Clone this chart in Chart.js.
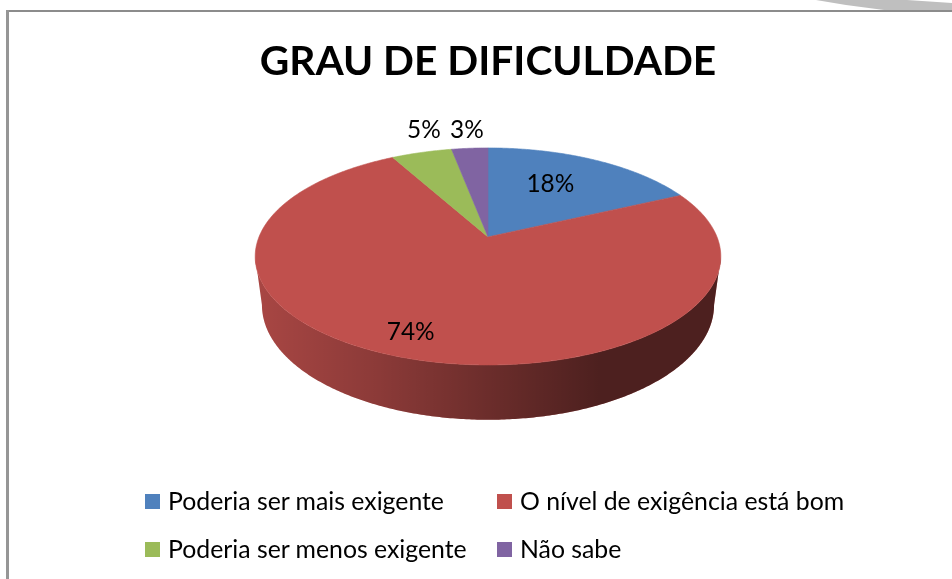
<!DOCTYPE html>
<html lang="pt">
<head>
<meta charset="utf-8">
<title>Grau de dificuldade</title>
<script src="https://cdn.jsdelivr.net/npm/chart.js@4"></script>
<style>
  html, body { margin: 0; background: #fff; }
  #page { position: relative; width: 952px; height: 579px; overflow: hidden; font-family: Lato, sans-serif; color: #000; }
  #swoosh { position: absolute; left: 816px; top: 0; width: 136px; height: 10px; background: #bfbfbf;
            clip-path: polygon(0 0, 91px 0, 136px 3px, 136px 10px, 68px 10px, 30px 5px); }
  #topline { position: absolute; left: 6px; top: 10px; width: 946px; height: 2px; background: #8c8c8c; }
  #leftline { position: absolute; left: 6px; top: 10px; width: 3px; height: 569px; background: #969696; }
  canvas { position: absolute; left: 0; top: 0; }
  .key { position: absolute; font-size: 24.8px; line-height: 30px; white-space: nowrap; }
  .key i { position: absolute; left: -23px; top: 8px; width: 15px; height: 15px; }
</style>
</head>
<body>
<div id="page">
  <div id="swoosh"></div>
  <div id="topline"></div>
  <div id="leftline"></div>
  <canvas id="grauChart" width="952" height="579"></canvas>
</div>
<script>
const categories = ['Poderia ser mais exigente', 'O nível de exigência está bom', 'Poderia ser menos exigente', 'Não sabe'];
const percentages = [18, 74, 5, 3];
const sliceColors = ['#4f81bd', '#c0504d', '#9bbb59', '#8064a2'];
const chartTitle = 'GRAU DE DIFICULDADE';

// perspectiva da tampa e da base do disco (fatores do raio do Chart.js)
const TOP_FACE = { rx: 1, ry: 0.4585, k: 0.18, drop: 0 };
const BASE_FACE = { rx: 0.971, ry: 0.485, k: 0.18, drop: 47.4 };
// escurecimento da lateral, da esquerda para a direita
const SIDE_SHADE = [[0, 0.12], [0.27, 0.28], [0.5, 0.44], [0.74, 0.6], [1, 0.6]];
// onde cada rótulo fica em relação ao meio da fatia
const LABEL_SPOTS = [
    { r: 0.658, dx: -11 },
    { r: 0.818, dx: -10 },
    { r: 1.328, dx: 20 },
    { r: 1.254, dx: 1 }
];
const LEGEND_SPOTS = [[168, 487], [520, 487], [168, 535], [520, 535]];

const project = (arc, face, angle, r = 1) => {
    const u = Math.cos(angle) * r;
    const v = Math.sin(angle) * r;
    const w = 1 - face.k * v;
    return {
        x: arc.x + arc.outerRadius * face.rx * u / w,
        y: arc.y + face.drop + arc.outerRadius * face.ry * v / w
    };
};

const traceRim = (ctx, arc, face, from, to) => {
    const steps = Math.max(2, Math.ceil(Math.abs(to - from) / 0.01));
    for (let i = 0; i <= steps; i++) {
        const p = project(arc, face, from + (to - from) * i / steps);
        ctx.lineTo(p.x, p.y);
    }
};

const drawSide = (ctx, arc, color) => {
    const edge = Math.asin(TOP_FACE.k);
    const from = Math.max(arc.startAngle, edge);
    const to = Math.min(arc.endAngle, Math.PI - edge);
    if (from >= to) return;

    const left = arc.x - arc.outerRadius * 1.017;
    const right = arc.x + arc.outerRadius * 1.017;
    const shade = ctx.createLinearGradient(left, 0, right, 0);
    SIDE_SHADE.forEach(([stop, alpha]) => shade.addColorStop(stop, `rgba(0,0,0,${alpha})`));

    [color, shade].forEach(fill => {
        ctx.beginPath();
        traceRim(ctx, arc, TOP_FACE, from, to);
        traceRim(ctx, arc, BASE_FACE, to, from);
        ctx.closePath();
        ctx.fillStyle = fill;
        ctx.fill();
    });
};

const drawTop = (ctx, arc, color) => {
    ctx.beginPath();
    ctx.moveTo(arc.x, arc.y);
    traceRim(ctx, arc, TOP_FACE, arc.startAngle, arc.endAngle);
    ctx.closePath();
    ctx.fillStyle = color;
    ctx.strokeStyle = color;
    ctx.lineWidth = 0.6;
    ctx.fill();
    ctx.stroke();
};

// desenha a pizza em perspectiva a partir dos arcos calculados pelo Chart.js
const tiltedPie = {
    id: 'tiltedPie',
    beforeDatasetsDraw(chart) {
        const ctx = chart.ctx;
        const arcs = chart.getDatasetMeta(0).data;
        ctx.save();
        arcs.forEach((arc, i) => drawSide(ctx, arc, sliceColors[i]));
        arcs.forEach((arc, i) => drawTop(ctx, arc, sliceColors[i]));

        ctx.fillStyle = '#000';
        ctx.font = '24.4px Lato, sans-serif';
        ctx.textAlign = 'center';
        ctx.textBaseline = 'middle';
        arcs.forEach((arc, i) => {
            const mid = (arc.startAngle + arc.endAngle) / 2;
            const p = project(arc, TOP_FACE, mid, LABEL_SPOTS[i].r);
            ctx.fillText(`${percentages[i]}%`, p.x + LABEL_SPOTS[i].dx, p.y);
        });
        ctx.restore();
        return false;
    }
};

const buildLegend = () => {
    const page = document.getElementById('page');
    categories.forEach((name, i) => {
        const key = document.createElement('div');
        key.className = 'key';
        key.style.left = `${LEGEND_SPOTS[i][0]}px`;
        key.style.top = `${LEGEND_SPOTS[i][1] - 1}px`;
        key.innerHTML = `<i style="background:${sliceColors[i]}"></i>${name}`;
        page.appendChild(key);
    });
};

new Chart(document.getElementById('grauChart'), {
    type: 'pie',
    data: {
        labels: categories,
        datasets: [{
            data: percentages,
            backgroundColor: sliceColors,
            borderWidth: 0,
            radius: 229
        }]
    },
    options: {
        responsive: false,
        animation: false,
        layout: { padding: { left: 24, right: 0, top: 0, bottom: 195 } },
        plugins: {
            legend: { display: false },
            tooltip: { enabled: false },
            title: {
                display: true,
                text: chartTitle,
                color: '#000',
                font: { family: 'Lato, sans-serif', size: 40.7, weight: 'bold', lineHeight: 1.2 },
                padding: { top: 37, bottom: 4 }
            }
        }
    },
    plugins: [tiltedPie]
});
buildLegend();
</script>
</body>
</html>
